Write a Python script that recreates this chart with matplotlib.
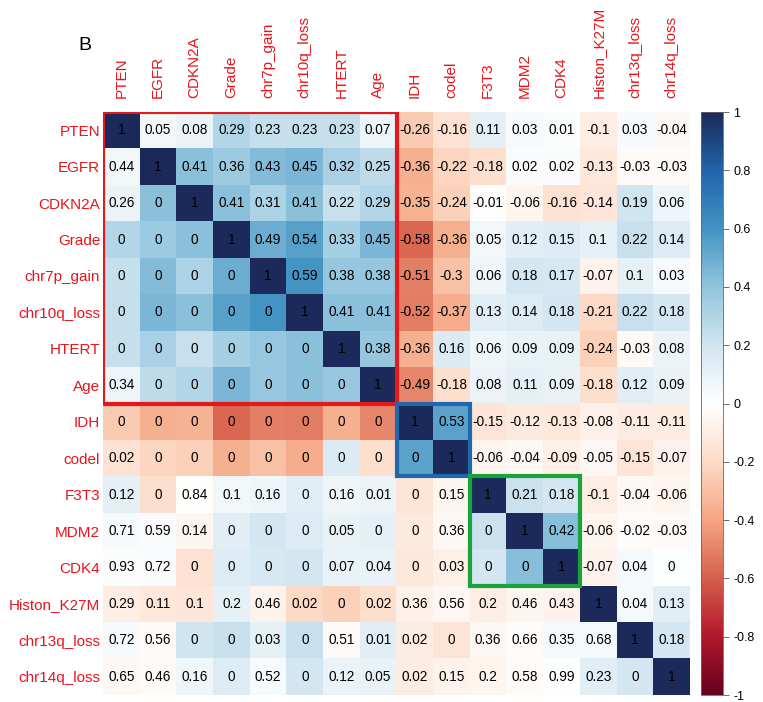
import numpy as np
import matplotlib
matplotlib.use('Agg')
import matplotlib.pyplot as plt
from matplotlib.colors import LinearSegmentedColormap
from matplotlib.patches import Rectangle

plt.rcParams['font.family'] = ['Liberation Sans', 'DejaVu Sans']

labels = ['PTEN', 'EGFR', 'CDKN2A', 'Grade', 'chr7p_gain', 'chr10q_loss', 'HTERT', 'Age',
          'IDH', 'codel', 'F3T3', 'MDM2', 'CDK4', 'Histon_K27M', 'chr13q_loss', 'chr14q_loss']

# correlations, upper triangle row by row (j > i)
corr_upper = [
    [0.05, 0.08, 0.29, 0.23, 0.23, 0.23, 0.07, -0.26, -0.16, 0.11, 0.03, 0.01, -0.1, 0.03, -0.04],
    [0.41, 0.36, 0.43, 0.45, 0.32, 0.25, -0.36, -0.22, -0.18, 0.02, 0.02, -0.13, -0.03, -0.03],
    [0.41, 0.31, 0.41, 0.22, 0.29, -0.35, -0.24, -0.01, -0.06, -0.16, -0.14, 0.19, 0.06],
    [0.49, 0.54, 0.33, 0.45, -0.58, -0.36, 0.05, 0.12, 0.15, 0.1, 0.22, 0.14],
    [0.59, 0.38, 0.38, -0.51, -0.3, 0.06, 0.18, 0.17, -0.07, 0.1, 0.03],
    [0.41, 0.41, -0.52, -0.37, 0.13, 0.14, 0.18, -0.21, 0.22, 0.18],
    [0.38, -0.36, 0.16, 0.06, 0.09, 0.09, -0.24, -0.03, 0.08],
    [-0.49, -0.18, 0.08, 0.11, 0.09, -0.18, 0.12, 0.09],
    [0.53, -0.15, -0.12, -0.13, -0.08, -0.11, -0.11],
    [-0.06, -0.04, -0.09, -0.05, -0.15, -0.07],
    [0.21, 0.18, -0.1, -0.04, -0.06],
    [0.42, -0.06, -0.02, -0.03],
    [-0.07, 0.04, 0],
    [0.04, 0.13],
    [0.18],
]

# p-values, lower triangle row by row (j < i)
pval_lower = [
    [0.44],
    [0.26, 0],
    [0, 0, 0],
    [0, 0, 0, 0],
    [0, 0, 0, 0, 0],
    [0, 0, 0, 0, 0, 0],
    [0.34, 0, 0, 0, 0, 0, 0],
    [0, 0, 0, 0, 0, 0, 0, 0],
    [0.02, 0, 0, 0, 0, 0, 0, 0, 0],
    [0.12, 0, 0.84, 0.1, 0.16, 0, 0.16, 0.01, 0, 0.15],
    [0.71, 0.59, 0.14, 0, 0, 0, 0.05, 0, 0, 0.36, 0],
    [0.93, 0.72, 0, 0, 0, 0, 0.07, 0.04, 0, 0.03, 0, 0],
    [0.29, 0.11, 0.1, 0.2, 0.46, 0.02, 0, 0.02, 0.36, 0.56, 0.2, 0.46, 0.43],
    [0.72, 0.56, 0, 0, 0.03, 0, 0.51, 0.01, 0.02, 0, 0.36, 0.66, 0.35, 0.68],
    [0.65, 0.46, 0.16, 0, 0.52, 0, 0.12, 0.05, 0.02, 0.15, 0.2, 0.58, 0.99, 0.23, 0],
]

n = len(labels)
corr = np.eye(n)
for i, row in enumerate(corr_upper):
    for k, v in enumerate(row):
        corr[i, i + 1 + k] = v
        corr[i + 1 + k, i] = v

cols = ["#67001F", "#B2182B", "#D6604D", "#F4A582", "#FDDBC7", "#FFFFFF",
        "#D1E5F0", "#92C5DE", "#4393C3", "#2166AC", "#1B2A5A"]
cmap = LinearSegmentedColormap.from_list('rdbu', cols, N=200)

fig = plt.figure(figsize=(7.63, 7.02), dpi=100)
ax = fig.add_axes([103 / 763, 1 - 695 / 702, 587 / 763, 583 / 702])
im = ax.imshow(corr, cmap=cmap, vmin=-1, vmax=1, aspect='auto', interpolation='nearest')

def fmt(v):
    s = ('%.2f' % v).rstrip('0').rstrip('.')
    if s in ('-0', ''):
        s = '0'
    return s

for i in range(n):
    for j in range(n):
        if i == j:
            t = '1'
        elif j > i:
            t = fmt(corr[i, j])
        else:
            t = fmt(pval_lower[i - 1][j])
        ax.text(j, i, t, ha='center', va='center', fontsize=9.8, color='black')

ax.set_xticks(range(n))
ax.set_yticks(range(n))
ax.set_xticklabels(labels, rotation=90, color='#E8141C', fontsize=11)
ax.set_yticklabels(labels, color='#E8141C', fontsize=11)
ax.xaxis.tick_top()
ax.tick_params(axis='x', length=0, pad=10)
ax.tick_params(axis='y', length=0, pad=2)
for s in ax.spines.values():
    s.set_visible(False)

# group boxes
ax.add_patch(Rectangle((-0.5, -0.5), 8, 8, fill=False, ec='#E31A1C', lw=3, zorder=5))
ax.add_patch(Rectangle((7.5, 7.5), 2, 2, fill=False, ec='#2167AC', lw=3, zorder=5))
ax.add_patch(Rectangle((9.5, 9.5), 3, 3, fill=False, ec='#1AA33A', lw=3, zorder=5))

cax = fig.add_axes([701 / 763, 1 - 695 / 702, 22 / 763, 583 / 702])
cb = fig.colorbar(im, cax=cax, ticks=np.arange(-1, 1.01, 0.2))
cb.ax.set_yticklabels([fmt(v) for v in np.arange(-1, 1.01, 0.2)])
cb.ax.tick_params(labelsize=9, length=4, width=0.6, color='#555555')
cb.outline.set_edgecolor('#666666')
cb.outline.set_linewidth(0.6)

fig.text(78 / 763, 1 - 45 / 702, 'B', fontsize=14, ha='left', va='center')

fig.savefig('out.png', dpi=100)
